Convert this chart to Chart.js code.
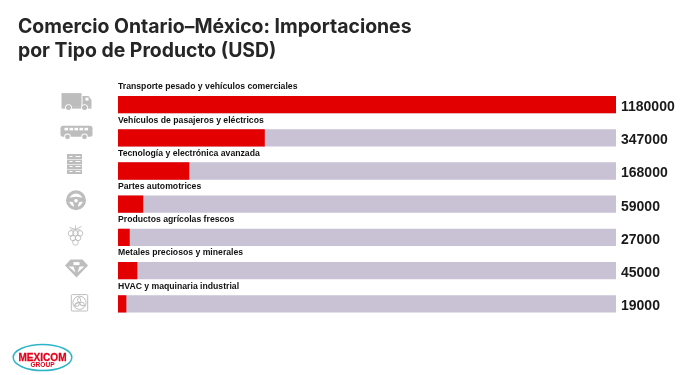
<!DOCTYPE html>
<html lang="es">
<head>
<meta charset="utf-8">
<title>Comercio Ontario–México</title>
<script src="https://cdn.jsdelivr.net/npm/chart.js@4"></script>
<style>
  html, body { margin: 0; padding: 0; background: #fff; overflow: hidden; }
  #wrap { position: relative; width: 684px; height: 375px; }
  #wrap canvas { position: absolute; left: 0; top: 0; }
  h1 {
    position: absolute; left: 18px; top: 15px; margin: 0;
    font: 700 19.4px/23.5px Inter, sans-serif; color: #262626;
  }
  #logo { position: absolute; left: 10px; top: 342px; }
</style>
</head>
<body>
<div id="wrap">
  <canvas id="imports-chart" width="684" height="375"></canvas>
  <h1>Comercio Ontario–México: Importaciones<br>por Tipo de Producto (USD)</h1>
  <svg id="logo" width="66" height="32" viewBox="0 0 66 32">
    <ellipse cx="32.5" cy="15.5" rx="29.3" ry="13" fill="#fff" stroke="#2db4c6" stroke-width="1.5"/>
    <text x="32.5" y="18.7" text-anchor="middle" font-family="Liberation Sans" font-weight="700" font-size="11" textLength="48" lengthAdjust="spacingAndGlyphs" fill="#e3001b" stroke="#e3001b" stroke-width="0.3">MEXICOM</text>
    <text x="32.5" y="25" text-anchor="middle" font-family="Liberation Sans" font-weight="700" font-size="7" textLength="24" lengthAdjust="spacingAndGlyphs" fill="#e3001b">GROUP</text>
  </svg>
</div>
<script>
const categories = [
  'Transporte pesado y vehículos comerciales',
  'Vehículos de pasajeros y eléctricos',
  'Tecnología y electrónica avanzada',
  'Partes automotrices',
  'Productos agrícolas frescos',
  'Metales preciosos y minerales',
  'HVAC y maquinaria industrial'
];
const importValues = [1180000, 347000, 168000, 59000, 27000, 45000, 19000];
const scaleMax = 1180000;
const trackValues = categories.map(() => scaleMax);

const iconGrey = '#bdbdbd';

function circle(c, x, y, r) {
  c.beginPath();
  c.arc(x, y, r, 0, Math.PI * 2);
}

// small grey pictograms left of the bars
const icons = [
  function truck(c) {
    c.fillStyle = iconGrey;
    c.fillRect(-15, -8, 20, 13);
    c.fillRect(-15, 5, 30, 2.5);
    c.beginPath();
    c.moveTo(6, -5); c.lineTo(12, -5); c.lineTo(15, -1); c.lineTo(15, 5); c.lineTo(6, 5);
    c.closePath(); c.fill();
    c.fillStyle = '#fff';
    c.fillRect(9, -3.5, 3, 3);
    [-8, 8].forEach(x => {
      c.fillStyle = '#fff'; circle(c, x, 6.5, 3.4); c.fill();
      c.fillStyle = iconGrey; circle(c, x, 6.5, 2.5); c.fill();
    });
  },
  function bus(c) {
    c.fillStyle = iconGrey;
    c.beginPath();
    c.roundRect(-16, -6, 32, 11, 2.5);
    c.fill();
    c.fillStyle = '#fff';
    [-12, -7, -2, 3, 8].forEach(x => c.fillRect(x, -4, 3.6, 2.6));
    [-9, 8].forEach(x => {
      c.fillStyle = '#fff'; circle(c, x, 5, 3.3); c.fill();
      c.fillStyle = iconGrey; circle(c, x, 5, 2.4); c.fill();
    });
  },
  function server(c) {
    c.fillStyle = iconGrey;
    c.fillRect(-7.5, -10, 15, 20);
    c.fillStyle = '#fff';
    [-8, -3, 2, 7].forEach(y => {
      c.fillRect(-5, y, 3, 1);
      c.fillRect(1, y, 5, 1);
    });
    [-5, 0, 5].forEach(y => c.fillRect(-7.5, y, 15, 0.6));
  },
  function wheel(c) {
    c.strokeStyle = iconGrey;
    c.lineWidth = 3.2;
    circle(c, 0, 0, 8.4); c.stroke();
    c.fillStyle = iconGrey;
    c.beginPath();
    c.moveTo(-8, -2); c.quadraticCurveTo(0, -5, 8, -2);
    c.lineTo(8, 1); c.lineTo(3, 2); c.lineTo(1.5, 8); c.lineTo(-1.5, 8); c.lineTo(-3, 2); c.lineTo(-8, 1);
    c.closePath(); c.fill();
    c.fillStyle = '#fff'; circle(c, 0, 0.5, 1.8); c.fill();
  },
  function grapes(c) {
    c.strokeStyle = iconGrey;
    c.lineWidth = 0.9;
    [[-4.5, -2], [0, -2], [4.5, -2], [-2.5, 2.5], [2.5, 2.5], [0, 7]].forEach(p => {
      circle(c, p[0], p[1], 2.8); c.stroke();
    });
    c.beginPath();
    c.moveTo(0, -5); c.lineTo(0, -10);
    c.moveTo(0, -6); c.lineTo(-6, -8);
    c.moveTo(0, -6); c.lineTo(6, -9);
    c.moveTo(-5, -5.5); c.lineTo(5, -5.5);
    c.stroke();
  },
  function diamond(c) {
    c.fillStyle = iconGrey;
    c.beginPath();
    c.moveTo(-6, -9); c.lineTo(6, -9); c.lineTo(11.5, -3); c.lineTo(0, 9); c.lineTo(-11.5, -3);
    c.closePath(); c.fill();
    c.fillStyle = '#fff';
    c.beginPath();
    c.moveTo(-8, -2); c.lineTo(-3, -2); c.lineTo(-1, 4);
    c.closePath(); c.fill();
    c.beginPath();
    c.moveTo(8, -2); c.lineTo(3, -2); c.lineTo(1, 4);
    c.closePath(); c.fill();
    c.fillRect(-3, -6.5, 6, 3);
  },
  function fan(c) {
    c.strokeStyle = iconGrey;
    c.lineWidth = 1;
    c.beginPath();
    c.roundRect(-8.2, -8.2, 16.4, 16.4, 1);
    c.stroke();
    circle(c, 0, 0, 6.6); c.stroke();
    for (let i = 0; i < 3; i++) {
      c.save();
      c.rotate(i * Math.PI * 2 / 3);
      c.beginPath();
      c.moveTo(0, 0);
      c.quadraticCurveTo(-4, -2.5, 0, -5.8);
      c.quadraticCurveTo(2.5, -2.5, 0, 0);
      c.stroke();
      c.restore();
    }
  }
];
// icon centres do not sit on the bar centres in the original
const iconOffsets = [[76.5, -3.5], [76.5, -6], [74.5, -7], [76, -4], [75.5, -2], [76.5, -2], [79.5, -1]];

const barExtras = {
  id: 'barExtras',
  afterDatasetsDraw(chart) {
    const c = chart.ctx;
    const x = chart.scales.x;
    const y = chart.scales.y;
    c.save();
    c.textBaseline = 'middle';
    categories.forEach((name, i) => {
      const yc = y.getPixelForValue(i);
      // category name above the bar
      c.font = '700 8.66px "Liberation Sans"';
      c.textAlign = 'left';
      c.fillStyle = '#111';
      c.fillText(name, x.left, yc - 17.5);
      // value right of the track
      c.font = '700 14px "Liberation Sans"';
      c.fillStyle = '#1a1a1a';
      c.fillText(String(importValues[i]), x.right + 5, yc + 2.5);
      c.save();
      c.translate(iconOffsets[i][0], yc + iconOffsets[i][1]);
      icons[i](c);
      c.restore();
    });
    c.restore();
  }
};

new Chart(document.getElementById('imports-chart'), {
  type: 'bar',
  data: {
    labels: categories,
    datasets: [
      { label: 'Importaciones', data: importValues, backgroundColor: '#e30000', grouped: false, barThickness: 16.6 },
      { label: 'Total', data: trackValues, backgroundColor: '#c8c2d4', grouped: false, barThickness: 16.6 }
    ]
  },
  options: {
    indexAxis: 'y',
    responsive: false,
    animation: false,
    layout: { padding: { left: 118, right: 68, top: 88, bottom: 54.6 } },
    plugins: { legend: { display: false }, tooltip: { enabled: false } },
    scales: {
      x: { display: false, min: 0, max: scaleMax },
      y: { display: false }
    }
  },
  plugins: [barExtras]
});
</script>
</body>
</html>
